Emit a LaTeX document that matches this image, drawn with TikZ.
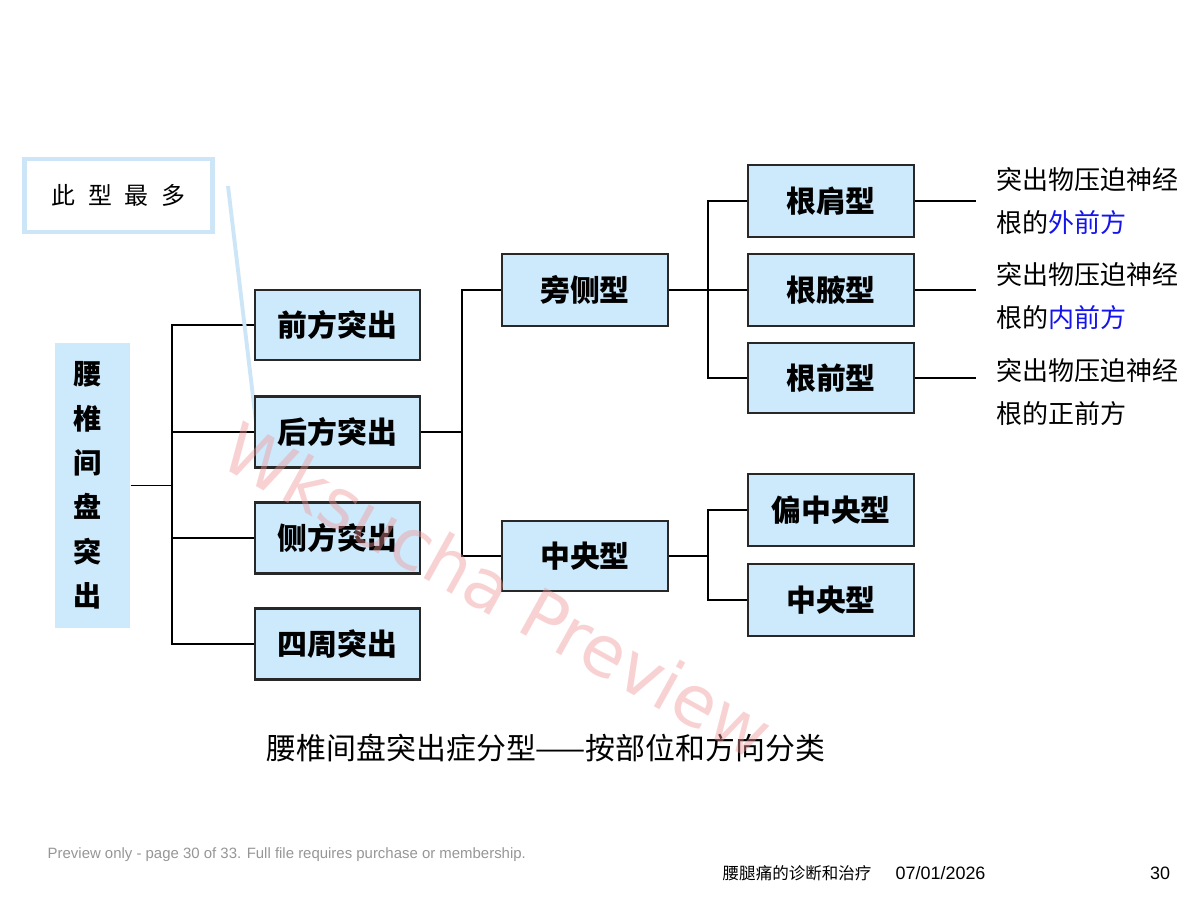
\documentclass[tikz,border=0pt]{standalone}
\usepackage{fontspec}
\usetikzlibrary{backgrounds}
\setmainfont{Liberation Sans}
\newfontfamily\cjk{Noto Sans CJK SC}
\newfontfamily\wmfont{DejaVu Sans}
\definecolor{boxfill}{RGB}{204,234,252}
\definecolor{boxline}{RGB}{40,40,40}
\definecolor{callblue}{RGB}{205,230,247}
\definecolor{txtblue}{RGB}{20,20,235}
\definecolor{wmpink}{RGB}{240,150,150}
\definecolor{footgray}{RGB}{150,150,150}
\tikzset{
  box/.style={draw=boxline, line width=0.6pt, fill=boxfill, minimum width=1.65cm, minimum height=0.71cm, inner sep=0pt,
    font=\cjk\bfseries\fontsize{8.5}{10}\selectfont},
  conn/.style={draw=black, line width=0.55pt},
  desc/.style={anchor=west, align=left, inner sep=0pt, font=\cjk\fontsize{7.4}{12}\selectfont},
}
\begin{document}
\begin{tikzpicture}[x=0.01cm, y=-0.01cm]
\useasboundingbox (0,0) rectangle (1200,900);

% root box
\node[fill=boxfill, minimum width=0.75cm, minimum height=2.85cm, inner sep=0pt] (root) at (92.5,485.5) {};
\node[align=center, inner sep=0pt, font=\cjk\bfseries\fontsize{8}{12.6}\selectfont] (roottxt) at (88,485.5) {腰\\椎\\间\\盘\\突\\出};

% level 1
\node[box, minimum height=0.70cm] (A) at (337.5,325) {前方突出};
\node[box] (B) at (337.5,432) {后方突出};
\node[box] (C) at (337.5,538) {侧方突出};
\node[box] (D) at (337.5,644) {四周突出};

% level 2
\node[box, minimum width=1.66cm, minimum height=0.72cm] (E) at (585,290) {旁侧型};
\node[box, minimum width=1.66cm, minimum height=0.70cm] (F) at (585,556) {中央型};

% level 3
\node[box, minimum width=1.66cm, minimum height=0.72cm] (G) at (831,201) {根肩型};
\node[box, minimum width=1.66cm, minimum height=0.72cm] (H) at (831,290) {根腋型};
\node[box, minimum width=1.66cm, minimum height=0.70cm] (I) at (831,378) {根前型};
\node[box, minimum width=1.66cm, minimum height=0.72cm] (J) at (831,510) {偏中央型};
\node[box, minimum width=1.66cm, minimum height=0.72cm] (K) at (831,600) {中央型};

% junctions
\coordinate (j1) at (172,485.5);
\coordinate (j2) at (462,432);
\coordinate (j3) at (708,290);
\coordinate (j4) at (708,556);
\coordinate (r1) at (976,201);
\coordinate (r2) at (976,290);
\coordinate (r3) at (976,378);

% callout box
\node[draw=callblue, line width=1.4pt, minimum width=1.87cm, minimum height=0.73cm, inner sep=0pt,
  font=\cjk\fontsize{6.8}{8}\selectfont] (call) at (118.5,195.5)
  {此\hspace{3.6pt}型\hspace{3.6pt}最\hspace{3.6pt}多};
\coordinate (ctip) at (228,186);
\coordinate (cend) at (256,422);

\begin{pgfonlayer}{background}
\fill[white] (0,0) rectangle (1200,900);
\draw[conn] (root.east) -- (j1);
\draw[conn] (j1) |- (A.west);
\draw[conn] (j1) |- (B.west);
\draw[conn] (j1) |- (C.west);
\draw[conn] (j1) |- (D.west);
\draw[conn] (B.east) -- (j2);
\draw[conn] (j2) |- (E.west);
\draw[conn] (j2) |- (F.west);
\draw[conn] (E.east) -- (j3);
\draw[conn] (j3) |- (G.west);
\draw[conn] (j3) |- (H.west);
\draw[conn] (j3) |- (I.west);
\draw[conn] (F.east) -- (j4);
\draw[conn] (j4) |- (J.west);
\draw[conn] (j4) |- (K.west);
\draw[conn] (G.east) -- (r1);
\draw[conn] (H.east) -- (r2);
\draw[conn] (I.east) -- (r3);
\draw[callblue, line width=1.1pt] (ctip) -- (cend);
\end{pgfonlayer}

% descriptions
\node[desc] (dG) at (996,201) {突出物压迫神经\\根的\textcolor{txtblue}{外前方}};
\node[desc] (dH) at (996,296) {突出物压迫神经\\根的\textcolor{txtblue}{内前方}};
\node[desc] (dI) at (996,392) {突出物压迫神经\\根的正前方};

% caption
\node[inner sep=0pt, font=\cjk\fontsize{8.5}{10}\selectfont] (cap) at (546,748) {腰椎间盘突出症分型——按部位和方向分类};

% footer
\node[anchor=west, inner sep=0pt, text=footgray, font=\fontsize{4.25}{5}\selectfont] (f1) at (47,855) {Preview only - page 30 of 33. Full file requires purchase or membership.};
\node[anchor=west, inner sep=0pt, font=\cjk\fontsize{4.7}{6}\selectfont] (f2) at (722,873) {腰腿痛的诊断和治疗};
\node[anchor=west, inner sep=0pt, font=\fontsize{5.1}{6}\selectfont] (f3) at (895,873) {07/01/2026};
\node[inner sep=0pt, font=\fontsize{5.1}{6}\selectfont] (f4) at (1160,873) {30};

% watermark
\node[rotate=-29, text=wmpink, opacity=0.42, font=\wmfont\fontsize{20}{24}\selectfont, inner sep=0pt] (wm) at (498,590) {Wksucha Preview};
\end{tikzpicture}
\end{document}
